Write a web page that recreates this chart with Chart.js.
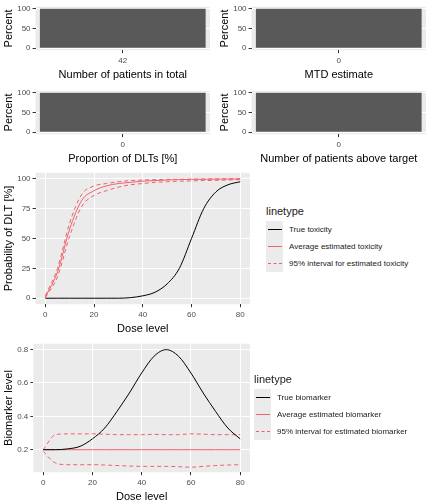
<!DOCTYPE html><html><head><meta charset="utf-8">
<script src="https://cdn.jsdelivr.net/npm/chart.js@4"></script>
<style>
body{margin:0;width:432px;height:504px;background:#fff;font-family:"Liberation Sans",Arial,sans-serif;position:relative;overflow:hidden}
canvas{position:absolute}
.lg{position:absolute;font-size:8px;color:#1a1a1a}
.lg .t{font-size:11px;margin-bottom:4px}
.lg .row{display:flex;align-items:center;height:17px}
.lg .key{width:17px;height:17px;background:#EBEBEB;display:flex;align-items:center;justify-content:center;margin-right:6px}
.lg .ln{width:14px;height:0;border-top:1.2px solid}
</style></head><body>
<canvas id="c1" style="left:0;top:0"></canvas>
<canvas id="c2" style="left:216px;top:0"></canvas>
<canvas id="c3" style="left:0;top:84px"></canvas>
<canvas id="c4" style="left:216px;top:84px"></canvas>
<canvas id="c5" style="left:0;top:166px"></canvas>
<canvas id="c6" style="left:0;top:337px"></canvas>
<div class="lg" style="left:266px;top:205px"><div class="t">linetype</div>
<div class="row"><div class="key"><div class="ln" style="border-color:#000"></div></div>True toxicity</div>
<div class="row"><div class="key"><div class="ln" style="border-color:#F0606F"></div></div>Average estimated toxicity</div>
<div class="row"><div class="key"><div class="ln" style="border-color:#F0606F;border-top-style:dashed"></div></div>95% interval for estimated toxicity</div></div>
<div class="lg" style="left:254px;top:373px"><div class="t">linetype</div>
<div class="row"><div class="key"><div class="ln" style="border-color:#000"></div></div>True biomarker</div>
<div class="row"><div class="key"><div class="ln" style="border-color:#F0606F"></div></div>Average estimated biomarker</div>
<div class="row"><div class="key"><div class="ln" style="border-color:#F0606F;border-top-style:dashed"></div></div>95% interval for estimated biomarker</div></div>
<script>
const barPanels=[
 {id:'c1',cat:['42'],val:[100],title:'Number of patients in total'},
 {id:'c2',cat:['0'],val:[100],title:'MTD estimate'},
 {id:'c3',cat:['0'],val:[100],title:'Proportion of DLTs [%]'},
 {id:'c4',cat:['0'],val:[100],title:'Number of patients above target'}];
const percentTicks=[0,25,50,75,100];
const doses=[0,5,10,15,20,25,30,35,40,45,50,55,60,65,70,75,80];
const trueTox=[0,0,0,0,0,0,0,0.5,2,5,12,25,50,75,89,95,97.5];
const avgTox=[1,22,58,82,90,94,96,97,98,98.5,99,99.3,99.5,99.6,99.7,99.8,99.9];
const upTox=[2,25,63,87,94,96,97.5,98.5,99,99.3,99.5,99.6,99.7,99.8,99.9,99.9,100];
const loTox=[0.5,18,52,77,86,90,93,95,96,97,97.5,98,98.2,98.5,98.7,99,99.2];
const trueBio=[0.2,0.2,0.205,0.22,0.265,0.33,0.43,0.54,0.66,0.76,0.8,0.76,0.66,0.54,0.43,0.33,0.265];
const avgBio=[0.2,0.2,0.2,0.2,0.2,0.2,0.2,0.2,0.2,0.2,0.2,0.2,0.2,0.2,0.2,0.2,0.2];
const upBio=[0.2,0.29,0.295,0.295,0.295,0.293,0.29,0.29,0.29,0.292,0.29,0.29,0.295,0.293,0.29,0.29,0.29];
const loBio=[0.19,0.12,0.11,0.11,0.11,0.108,0.105,0.102,0.1,0.1,0.1,0.098,0.095,0.1,0.105,0.108,0.11];
const RED='#F0606F';
const bg={id:'bg',beforeDraw(c){const a=c.chartArea,x=c.ctx;x.save();x.fillStyle='#EBEBEB';x.fillRect(a.left,a.top,a.right-a.left,a.bottom-a.top);x.restore();}};
const tickFont={size:8,family:'Liberation Sans'},titleFont={size:11,family:'Liberation Sans'};
const grid={color:'#fff',lineWidth:1,tickColor:'#333',tickLength:3,drawTicks:true};
Chart.defaults.animation=false;
function sz(id,w,h){const c=document.getElementById(id);c.width=w;c.height=h;c.style.width=w+'px';c.style.height=h+'px';return c;}
barPanels.forEach(p=>{
 new Chart(sz(p.id,216,82),{type:'bar',plugins:[bg],
  data:{labels:p.cat,datasets:[{data:p.val,backgroundColor:'#595959',barPercentage:1,categoryPercentage:0.95}]},
  options:{responsive:false,layout:{padding:{left:2,right:6,top:4}},plugins:{legend:{display:false},tooltip:{enabled:false}},
  scales:{x:{grid:{...grid,offset:false,color:'rgba(0,0,0,0)'},border:{display:false},ticks:{font:tickFont,color:'#4D4D4D'},title:{display:true,text:p.title,font:titleFont,color:'#000',padding:0}},
   y:{min:-5,max:105,afterBuildTicks:a=>{a.ticks=percentTicks.map(v=>({value:v}))},grid:grid,border:{display:false},ticks:{font:tickFont,color:'#4D4D4D',padding:2},title:{display:true,text:'Percent',font:titleFont,color:'#000',padding:0}}}}});
});
function pts(ys){return doses.map((d,i)=>({x:d,y:ys[i]}));}
function ln(ys,col,dash){return {data:pts(ys),borderColor:col,borderWidth:1,borderDash:dash?[4,3]:[],pointRadius:0,tension:0.4,cubicInterpolationMode:'monotone'};}
function linePanel(id,h,sets,ymin,ymax,yt,ylab,fmt){
 new Chart(sz(id,256,h),{type:'line',plugins:[bg],
  data:{datasets:sets},
  options:{responsive:false,layout:{padding:{left:2,right:6,top:6}},plugins:{legend:{display:false},tooltip:{enabled:false}},
  scales:{x:{type:'linear',min:-4,max:84,afterBuildTicks:a=>{a.ticks=[0,20,40,60,80].map(v=>({value:v}))},grid:grid,border:{display:false},ticks:{font:tickFont,color:'#4D4D4D'},title:{display:true,text:'Dose level',font:titleFont,color:'#000',padding:0}},
   y:{min:ymin,max:ymax,afterBuildTicks:a=>{a.ticks=yt.map(v=>({value:v}))},grid:grid,border:{display:false},ticks:{font:tickFont,color:'#4D4D4D',padding:2,callback:fmt},title:{display:true,text:ylab,font:titleFont,color:'#000',padding:0}}}}});
}
linePanel('c5',170,[ln(trueTox,'#000'),ln(avgTox,RED),ln(upTox,RED,1),ln(loTox,RED,1)],-5,105,[0,25,50,75,100],'Probability of DLT [%]',v=>v);
linePanel('c6',167,[ln(trueBio,'#000'),ln(avgBio,RED),ln(upBio,RED,1),ln(loBio,RED,1)],0.065,0.835,[0.2,0.4,0.6,0.8],'Biomarker level',v=>v.toFixed(1));
</script></body></html>
